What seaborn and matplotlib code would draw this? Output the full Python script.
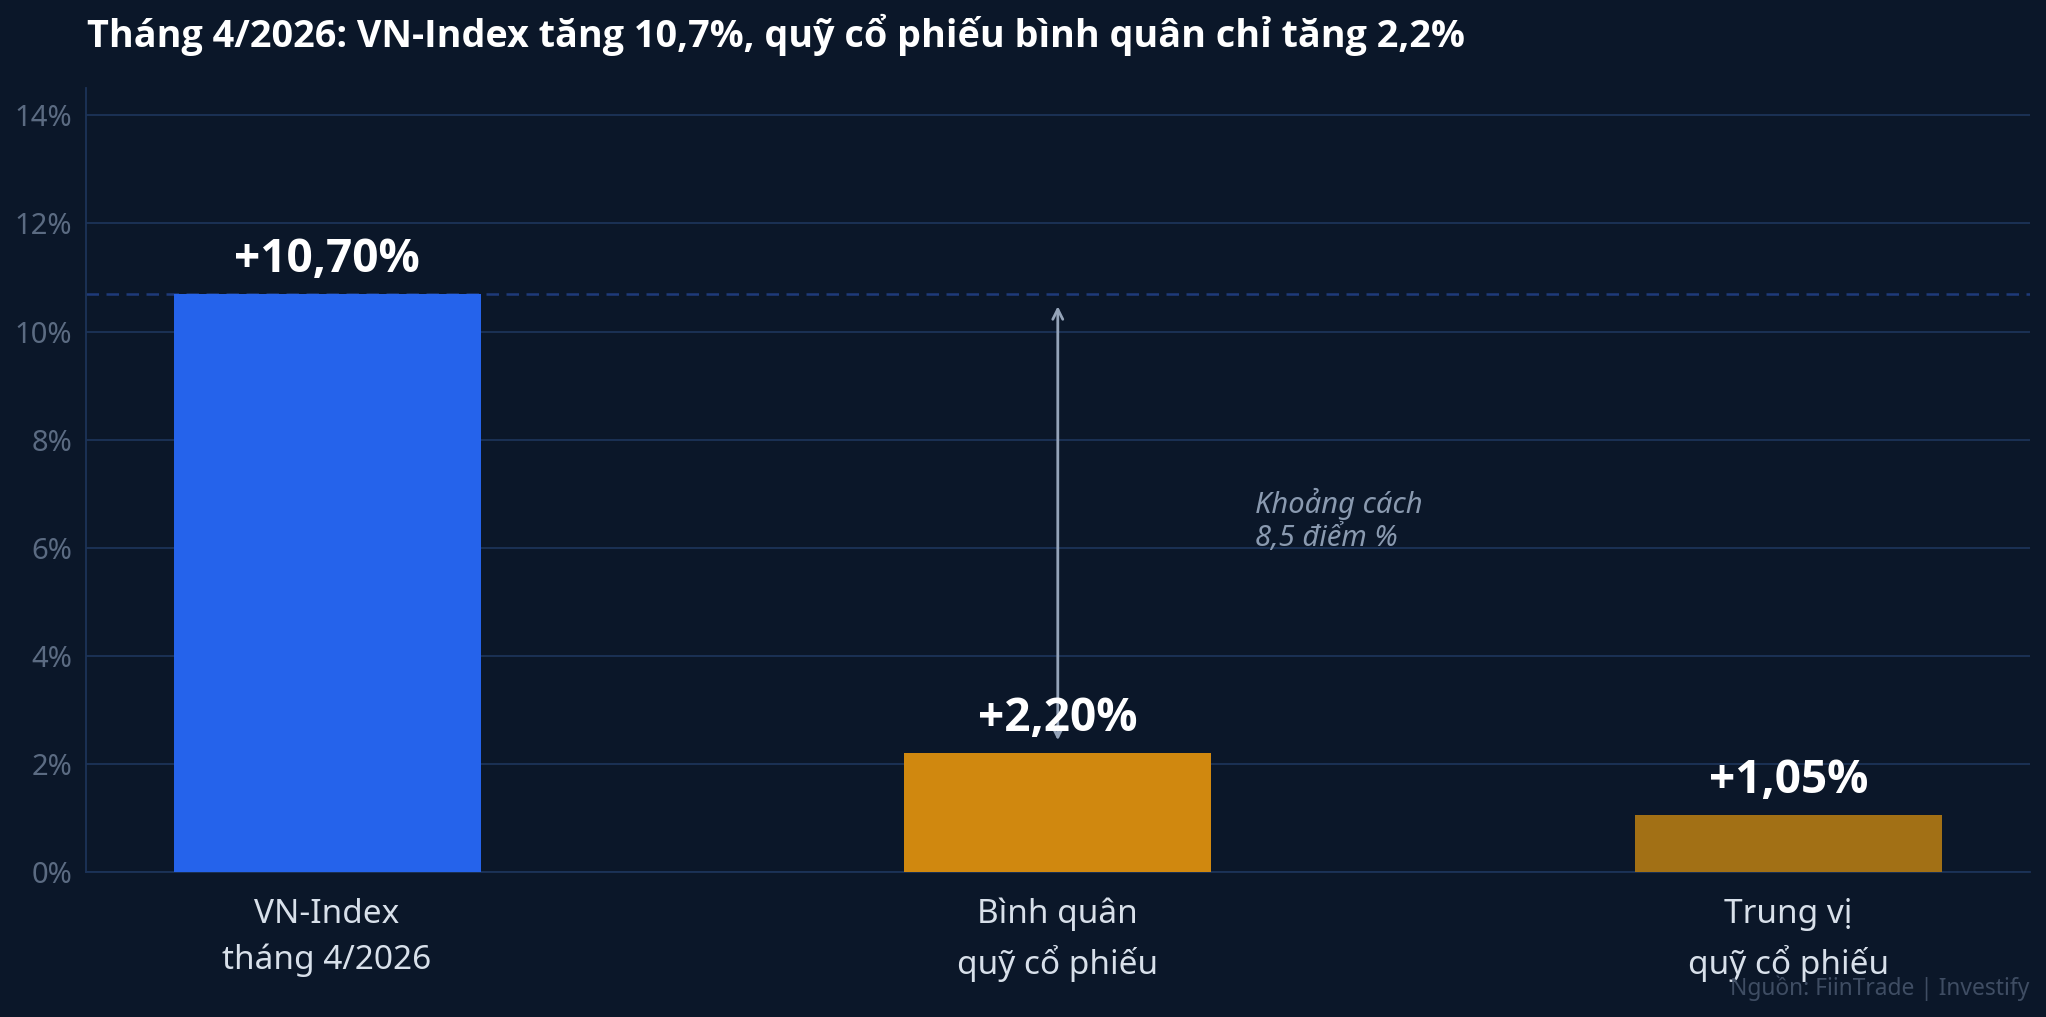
import matplotlib
matplotlib.use("Agg")
import matplotlib.pyplot as plt
import seaborn as sns
import pandas as pd

# du lieu
categories = ["VN-Index\ntháng 4/2026", "Bình quân\nquỹ cổ phiếu", "Trung vị\nquỹ cổ phiếu"]
values = [10.70, 2.20, 1.05]
value_labels = ["+10,70%", "+2,20%", "+1,05%"]
bar_colors = ["#2563EB", "#D0880F", "#A27015"]
yticks = [0, 2, 4, 6, 8, 10, 12, 14]
title = "Tháng 4/2026: VN-Index tăng 10,7%, quỹ cổ phiếu bình quân chỉ tăng 2,2%"
gap_note = "Khoảng cách\n8,5 điểm %"
source = "Nguồn: FiinTrade | Investify"

bg = "#0B1729"
grid_c = "#1C3358"
bold_fam = ['Open Sans', 'Noto Sans', 'DejaVu Sans']

sns.set_theme(style="dark")
plt.rcParams['font.family'] = ['Noto Sans', 'DejaVu Sans']

df = pd.DataFrame({"cat": categories, "val": values})

fig = plt.figure(figsize=(20.46, 10.17), dpi=100, facecolor=bg)
ax = fig.add_axes([0.042, 0.143, 0.950, 0.770])
ax.set_facecolor(bg)

sns.barplot(data=df, x="cat", y="val", hue="cat", palette=bar_colors,
            width=0.42, saturation=1, legend=False, ax=ax, zorder=3,
            edgecolor="none", linewidth=0)

ax.set_xlim(-0.33, 2.33)
ax.set_ylim(0, 14.5)
ax.set_yticks(yticks)
ax.set_yticklabels([f"{t}%" for t in yticks])
ax.set_xlabel("")
ax.set_ylabel("")

ax.yaxis.grid(True, color=grid_c, linewidth=1.3, zorder=0)
ax.xaxis.grid(False)
for s in ["top", "right"]:
    ax.spines[s].set_visible(False)
ax.spines["left"].set_color(grid_c)
ax.spines["bottom"].set_color(grid_c)
ax.spines["left"].set_linewidth(1.3)
ax.spines["bottom"].set_linewidth(1.3)

ax.tick_params(axis="y", colors="#5B6B82", labelsize=21, length=6, width=1.2, pad=4)
ax.tick_params(axis="y", which="major", color=grid_c)
ax.tick_params(axis="x", colors="#D8E0EA", labelsize=24, length=0, pad=19)
for lab in ax.get_xticklabels():
    lab.set_linespacing(1.48)

# duong tham chieu VN-Index
ax.axhline(values[0], color="#1E3A7A", linestyle="--", linewidth=1.8, dashes=(5, 3), zorder=2)

# nhan gia tri
for i, (v, lab) in enumerate(zip(values, value_labels)):
    ax.text(i, v + 0.2, lab, ha="center", va="bottom", color="white",
            fontsize=33, fontweight="bold", family=bold_fam, zorder=5)

# mui ten khoang cach
ax.annotate("", xy=(1, values[0]), xytext=(1, values[1]),
            arrowprops=dict(arrowstyle="<->", color="#94A3B8", lw=2,
                            mutation_scale=18, shrinkA=9, shrinkB=9), zorder=4)
ax.text(1.27, 6.5, gap_note, ha="left", va="center", color="#8A9AB0",
        fontsize=21, fontstyle="italic", linespacing=1.15)

fig.text(0.0425, 0.966, title, ha="left", va="center", color="white",
         fontsize=27.2, fontweight="bold", family=bold_fam)
fig.text(0.992, 0.028, source, ha="right", va="center", color="#3F4D63",
         fontsize=16.4)

fig.savefig("out.png", dpi=100, facecolor=bg)
